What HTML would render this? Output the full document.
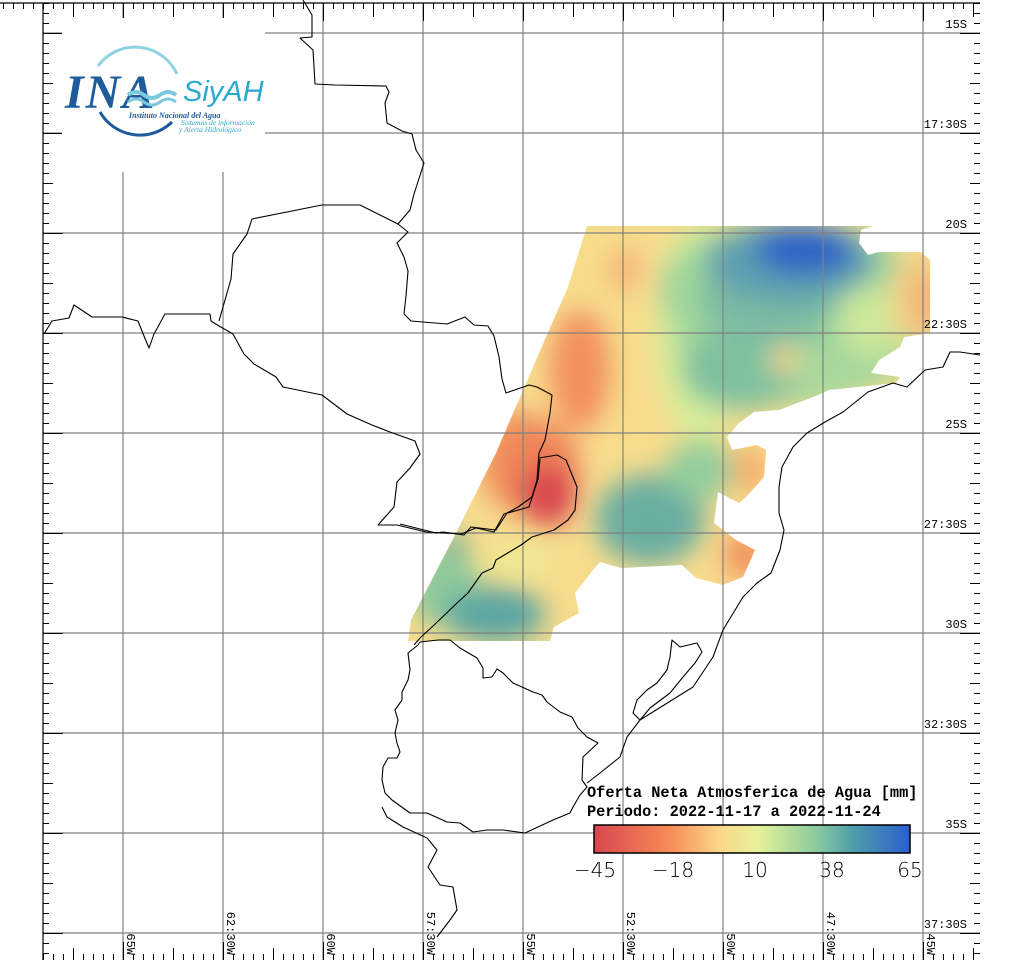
<!DOCTYPE html>
<html><head><meta charset="utf-8"><style>
html,body{margin:0;padding:0;background:#fff;}
svg{display:block;}
.m{font-family:"Liberation Mono",monospace;font-size:12px;fill:#000;}
</style></head><body>
<svg width="1024" height="960" viewBox="0 0 1024 960" xmlns="http://www.w3.org/2000/svg">
<defs>
<clipPath id="dc"><path d="M587,226 L873,226 861,230 859,243 868,255 879,252 921,252 930,260 930,333 904,337 900,347 879,360 871,373 900,377 896,383 829,390 818,395 779,410 754,412 739,423 727,437 732,450 757,445 766,450 764,477 746,497 739,503 718,492 714,523 736,540 755,550 743,577 723,585 696,578 682,565 621,568 600,562 593,570 575,593 579,613 554,627 550,641 408,641 411,620 454,537 496,453 546,337 568,287 Z"/></clipPath>
<filter id="bl" x="-50%" y="-50%" width="200%" height="200%"><feGaussianBlur stdDeviation="13"/></filter>
<linearGradient id="cb" x1="0" x2="1" y1="0" y2="0">
<stop offset="0" stop-color="#d9454e"/><stop offset="0.24" stop-color="#f68c57"/><stop offset="0.4" stop-color="#fbd88a"/><stop offset="0.52" stop-color="#e6f298"/><stop offset="0.7" stop-color="#8ccb9f"/><stop offset="0.82" stop-color="#4e9eaa"/><stop offset="1" stop-color="#2b5fd0"/>
</linearGradient>
</defs>

<g clip-path="url(#dc)">
<rect x="400" y="220" width="540" height="430" fill="#f7dc8c"/>
<g filter="url(#bl)">
<ellipse cx="700" cy="330" rx="45" ry="110" fill="#d7ee9a"/>
<ellipse cx="800" cy="320" rx="130" ry="85" fill="#a9d89b"/>
<ellipse cx="790" cy="290" rx="130" ry="70" fill="#9fd59c"/>
<ellipse cx="740" cy="370" rx="60" ry="40" fill="#7fc19f"/>
<ellipse cx="770" cy="300" rx="70" ry="45" fill="#7bbba2"/>
<ellipse cx="790" cy="262" rx="85" ry="40" fill="#5e9fb0"/>
<ellipse cx="805" cy="250" rx="50" ry="25" fill="#2d63c6"/>
<ellipse cx="875" cy="320" rx="40" ry="35" fill="#cbe89a"/>
<ellipse cx="912" cy="300" rx="22" ry="45" fill="#f3cf86"/>
<ellipse cx="926" cy="300" rx="10" ry="35" fill="#f39e66"/>
<ellipse cx="785" cy="360" rx="16" ry="14" fill="#f4d68a"/>
<ellipse cx="625" cy="270" rx="15" ry="20" fill="#f5ad72"/>
<ellipse cx="580" cy="370" rx="30" ry="60" fill="#f3905c"/>
<ellipse cx="515" cy="460" rx="35" ry="50" fill="#f2925c"/>
<ellipse cx="540" cy="470" rx="40" ry="50" fill="#f0845a"/>
<ellipse cx="548" cy="495" rx="28" ry="32" fill="#d9474e"/>
<ellipse cx="650" cy="520" rx="55" ry="45" fill="#6aaea1"/>
<ellipse cx="700" cy="470" rx="35" ry="30" fill="#93cd9c"/>
<ellipse cx="745" cy="555" rx="20" ry="25" fill="#f08d5a"/>
<ellipse cx="750" cy="470" rx="18" ry="25" fill="#f5ad6c"/>
<ellipse cx="445" cy="590" rx="35" ry="40" fill="#8dc99c"/>
<ellipse cx="495" cy="615" rx="50" ry="28" fill="#5ba6a2"/>
<ellipse cx="455" cy="545" rx="12" ry="12" fill="#5fa6a0"/>
<ellipse cx="520" cy="560" rx="35" ry="12" fill="#eaf096"/>
<ellipse cx="418" cy="635" rx="15" ry="10" fill="#f5da8c"/>
</g>
</g>

<g stroke="#808080" stroke-width="1.2" fill="none">
<path d="M123,3V960 M223,3V960 M323,3V960 M423,3V960 M523,3V960 M623,3V960 M723,3V960 M823,3V960 M923,3V960"/>
<path d="M43,33H980 M43,133H980 M43,233H980 M43,333H980 M43,433H980 M43,533H980 M43,633H980 M43,733H980 M43,833H980 M43,933H980"/>
</g>

<g stroke="#000" stroke-width="1.1" fill="none" stroke-linejoin="round">
<polyline points="303,0 312,15 312,37 300,38 313,50 315,84 335,85 386,86 389,92 385,103 387,123 402,131 412,134 416,150 424,163 414,194 410,210 398,224 408,232 397,243 404,257 408,271 406,296 404,314 411,321 447,324 465,317 474,325 488,326 494,336 499,357 502,379 506,393 529,385 537,387 552,395 550,413 545,440 539,453 537,480 532,497 518,507 507,513 496,530 471,527 464,535 443,532 436,533 400,524"/>
<polyline points="398,224 360,205 322,205 252,219 247,234 233,254 231,279 219,321"/>
<polyline points="44,334 52,321 69,318 74,305 92,317 122,317 138,321 144,336 149,348 154,334 165,314 183,314 210,314 211,321 219,326 233,334 244,354 254,364 276,377 283,387 322,395 347,414 372,425 390,432 415,441 420,454 410,468 397,482 394,507 378,525 397,525 426,532 461,534 476,528 494,532 504,514 529,507 538,479 540,459"/>
<polyline points="539,458 557,455 566,460 577,487 575,510 568,520 554,530 532,537 521,545 496,560 493,568 482,573 468,593 457,603 432,627 421,637 414,645"/>
<polyline points="420,642 438,640 450,640 460,648 477,658 483,668 483,678 492,677 497,669 503,673 513,683 522,687 533,692 542,695 547,702 560,712 572,717 578,728 587,737 598,743 583,757 582,780 587,787 580,795 573,807 570,813 553,820 525,833 503,830 487,830 473,832 460,823 447,822 427,813 410,813 392,800 385,793 382,780 383,767 388,758 397,758 400,752 397,743 395,733 398,720 395,710 402,700 402,692 408,680 410,670 408,653 418,645 420,642"/>
<polyline points="382,807 387,817 403,827 427,838 437,850 428,867 440,885 453,887 457,910 450,920 437,937"/>
<polyline points="980,355 960,352 950,352 943,367 925,370 907,387 893,383 868,392 843,412 825,422 807,433 793,447 782,467 779,487 779,513 784,530 780,550 771,573 757,583 743,597 729,620 723,630 713,657 693,687 640,720 627,737 620,757 600,773 587,783"/>
<polyline points="640,720 633,713 637,700 647,690 657,683 667,670 670,657 672,640 680,647 697,643 702,652 695,663 683,677 670,693 650,708 640,720"/>
</g>

<g stroke="#000" fill="none">
<path d="M43,3V960" stroke-width="1.2"/>
<path d="M0,3H980" stroke-width="1.2"/>
<path d="M46,3V960" stroke-width="6" stroke-dasharray="1 9"/>
<path d="M48,83V960" stroke-width="10" stroke-dasharray="1 99"/>
<path d="M53,33V960" stroke-width="20" stroke-dasharray="1 99"/>
<path d="M977,3V960" stroke-width="6" stroke-dasharray="1 9"/>
<path d="M975,83V960" stroke-width="10" stroke-dasharray="1 99"/>
<path d="M970,33V960" stroke-width="20" stroke-dasharray="1 99"/>
<path d="M3,6H980" stroke-width="6" stroke-dasharray="1 9"/>
<path d="M73,10H980" stroke-width="14" stroke-dasharray="1 99"/>
<path d="M123,12H980" stroke-width="18" stroke-dasharray="1 99"/>
<path d="M43,957H980" stroke-width="6" stroke-dasharray="1 9"/>
<path d="M73,954H980" stroke-width="12" stroke-dasharray="1 99"/>
<path d="M123,951H980" stroke-width="18" stroke-dasharray="1 99"/>
</g>

<rect x="62" y="18" width="203" height="154" fill="#fff"/>
<path d="M98,66 A46,46 0 0 1 177,74" stroke="#8fd3e3" stroke-width="3" fill="none"/>
<path d="M100,112 A46,46 0 0 0 172,122" stroke="#1f5a9c" stroke-width="3" fill="none"/>
<text x="65" y="108" font-family="Liberation Serif,serif" font-style="italic" font-weight="bold" font-size="48" fill="#1e5c9e" letter-spacing="2">INA</text>
<path d="M128,95 q8,-6 16,0 t16,0 t16,0" stroke="#7cc8de" stroke-width="4" fill="none"/>
<path d="M128,102 q8,-6 16,0 t16,0 t16,0" stroke="#7cc8de" stroke-width="3" fill="none"/>
<text x="183" y="101" font-family="Liberation Sans,sans-serif" font-style="italic" font-size="29" fill="#2aa9d0">SiyAH</text>
<text x="129" y="118" font-family="Liberation Serif,serif" font-style="italic" font-weight="bold" font-size="8" fill="#1e5c9e">Instituto Nacional del Agua</text>
<text x="181" y="125" font-family="Liberation Serif,serif" font-style="italic" font-size="7.5" fill="#2aa9d0">Sistemas de información</text>
<text x="179" y="132" font-family="Liberation Serif,serif" font-style="italic" font-size="7.5" fill="#2aa9d0">y Alerta Hidrológico</text>

<g class="m" text-anchor="end">
<text x="967" y="28">15S</text>
<text x="967" y="128">17:30S</text>
<text x="967" y="228">20S</text>
<text x="967" y="328">22:30S</text>
<text x="967" y="428">25S</text>
<text x="967" y="528">27:30S</text>
<text x="967" y="628">30S</text>
<text x="967" y="728">32:30S</text>
<text x="967" y="828">35S</text>
<text x="967" y="928">37:30S</text>
</g>
<g class="m" text-anchor="end">
<text transform="translate(127,955) rotate(90)">65W</text>
<text transform="translate(227,955) rotate(90)">62:30W</text>
<text transform="translate(327,955) rotate(90)">60W</text>
<text transform="translate(427,955) rotate(90)">57:30W</text>
<text transform="translate(527,955) rotate(90)">55W</text>
<text transform="translate(627,955) rotate(90)">52:30W</text>
<text transform="translate(727,955) rotate(90)">50W</text>
<text transform="translate(827,955) rotate(90)">47:30W</text>
<text transform="translate(927,955) rotate(90)">45W</text>
</g>

<g font-family="Liberation Mono,monospace" font-weight="bold" font-size="15.3" fill="#000">
<text x="587" y="797">Oferta Neta Atmosferica de Agua [mm]</text>
<text x="587" y="816">Periodo: 2022-11-17 a 2022-11-24</text>
</g>
<rect x="594" y="825" width="316" height="28" fill="url(#cb)" stroke="#000" stroke-width="1.5"/>
<g font-family="DejaVu Sans,sans-serif" font-weight="200" font-size="20" fill="#000" text-anchor="middle">
<text x="595" y="877">−45</text>
<text x="673" y="877">−18</text>
<text x="755" y="877">10</text>
<text x="832" y="877">38</text>
<text x="910" y="877">65</text>
</g>
</svg>
</body></html>
